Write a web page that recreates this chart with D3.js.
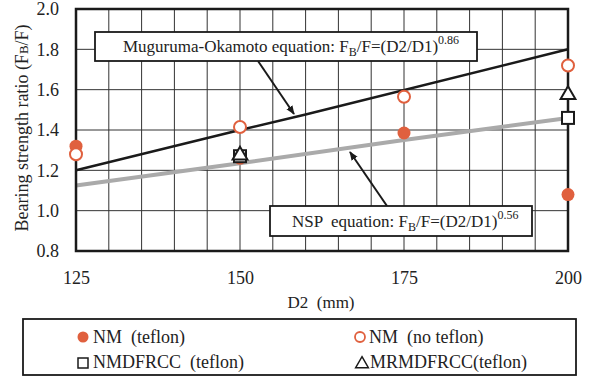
<!DOCTYPE html>
<html>
<head>
<meta charset="utf-8">
<script src="https://cdn.jsdelivr.net/npm/d3@7"></script>
<style>
  body { margin: 0; background: #fff; }
</style>
</head>
<body>
<svg id="chart" width="593" height="376" font-family="Liberation Serif"></svg>
<script>
// data
const xTicks = [125, 150, 175, 200];
const yTicks = [0.8, 1.0, 1.2, 1.4, 1.6, 1.8, 2.0];
const okamotoLine = [[125, 1.2], [150, 1.40], [160, 1.477], [200, 1.80]];
const nspLine = [[125, 1.125], [150, 1.235], [175, 1.35], [200, 1.46]];
const nmTeflon = [[125, 1.32], [150, 1.26], [175, 1.385], [200, 1.08]];
const nmNoTeflon = [[125, 1.28], [150, 1.415], [175, 1.565], [200, 1.72]];
const nmdfrcc = [[150, 1.27], [200, 1.46]];
const mrmdfrcc = [[150, 1.275], [200, 1.575]];
const legendLabels = ['NM  (teflon)', 'NMDFRCC  (teflon)', 'NM  (no teflon)', 'MRMDFRCC(teflon)'];

const orange = '#e0603e';
const svg = d3.select('#chart');
const x = d3.scaleLinear().domain([125, 200]).range([76, 568]);
const y = d3.scaleLinear().domain([0.8, 2.0]).range([251, 9]);

function txt(sel, size) {
  return sel.attr('font-family', 'Liberation Serif').attr('font-size', size).attr('fill', '#222');
}

// grid
const grid = svg.append('g');
grid.selectAll('.vg')
  .data(d3.range(125, 201, 5))
  .enter().append('line')
  .attr('x1', (d) => x(d)).attr('x2', (d) => x(d))
  .attr('y1', y(0.8)).attr('y2', y(2.0))
  .style('stroke', '#333').style('stroke-width', 1);
grid.selectAll('.hg')
  .data(yTicks)
  .enter().append('line')
  .attr('x1', x(125)).attr('x2', x(200))
  .attr('y1', (d) => y(d)).attr('y2', (d) => y(d))
  .style('stroke', '#333').style('stroke-width', 1);

// axes
const yAxis = svg.append('g')
  .attr('transform', `translate(${x(125)}, 0)`)
  .call(d3.axisLeft(y).tickValues(yTicks).tickFormat(d3.format('.1f')).tickSize(0).tickPadding(17));
const xAxis = svg.append('g')
  .attr('transform', `translate(0, ${y(0.8)})`)
  .call(d3.axisBottom(x).tickValues(xTicks).tickSize(0).tickPadding(20));
[xAxis, yAxis].forEach((a) => {
  a.select('.domain').remove();
  a.attr('font-family', 'Liberation Serif').attr('font-size', 18);
  txt(a.selectAll('text'), 18);
});

txt(svg.append('text'), 17)
  .attr('x', 321).attr('y', 308)
  .attr('text-anchor', 'middle')
  .attr('xml:space', 'preserve')
  .text('D2  (mm)');

const yl = txt(svg.append('text'), 18)
  .attr('transform', 'translate(28, 128) rotate(-90)')
  .attr('text-anchor', 'middle');
yl.append('tspan').text('Bearing strength ratio (F');
yl.append('tspan').text('B').attr('font-size', 13);
yl.append('tspan').text('/F)');

// lines
const line = d3.line().x((d) => x(d[0])).y((d) => y(d[1]));
svg.append('path').attr('d', line(nspLine))
  .style('fill', 'none').style('stroke', '#aaa').style('stroke-width', 4);
svg.append('path').attr('d', line(okamotoLine))
  .style('fill', 'none').style('stroke', '#1a1a1a').style('stroke-width', 2.5);

// plot border
svg.append('rect')
  .attr('x', x(125)).attr('y', y(2.0))
  .attr('width', x(200) - x(125)).attr('height', y(0.8) - y(2.0))
  .style('fill', 'none').style('stroke', '#1a1a1a').style('stroke-width', 2.5);

// arrows
svg.append('defs').append('marker')
  .attr('id', 'arr').attr('viewBox', '0 0 10 10')
  .attr('refX', 9).attr('refY', 5)
  .attr('markerWidth', 9).attr('markerHeight', 9)
  .attr('orient', 'auto-start-reverse').attr('markerUnits', 'userSpaceOnUse')
  .append('path').attr('d', 'M0,1 L10,5 L0,9 Z').style('fill', '#1a1a1a');
svg.append('line')
  .attr('x1', 258).attr('y1', 61).attr('x2', 294).attr('y2', 114)
  .style('stroke', '#1a1a1a').style('stroke-width', 2).attr('marker-end', 'url(#arr)');
svg.append('line')
  .attr('x1', 387).attr('y1', 206).attr('x2', 350).attr('y2', 152)
  .style('stroke', '#1a1a1a').style('stroke-width', 2).attr('marker-end', 'url(#arr)');

// annotation boxes
function eqBox(bx, by, bw, bh, tx, ty, label, expo) {
  svg.append('rect')
    .attr('x', bx).attr('y', by).attr('width', bw).attr('height', bh)
    .style('fill', '#fff').style('stroke', '#1a1a1a').style('stroke-width', 1.8);
  const t = txt(svg.append('text'), 17).attr('x', tx).attr('y', ty).attr('xml:space', 'preserve');
  t.append('tspan').text(label + 'F');
  t.append('tspan').text('B').attr('font-size', 12).attr('dy', 4);
  t.append('tspan').text('/F=(D2/D1)').attr('dy', -4);
  t.append('tspan').text(expo).attr('font-size', 12).attr('dy', -8);
}
eqBox(95, 32, 382, 29, 123, 52, 'Muguruma-Okamoto equation: ', '0.86');
eqBox(270, 206, 262, 30, 292, 227, 'NSP  equation: ', '0.56');

// markers
const pts = svg.append('g');
pts.selectAll('.nmt').data(nmTeflon).enter().append('circle')
  .attr('cx', (d) => x(d[0])).attr('cy', (d) => y(d[1])).attr('r', 6.5)
  .style('fill', orange);
pts.selectAll('.sq').data(nmdfrcc).enter().append('rect')
  .attr('x', (d) => x(d[0]) - 6).attr('y', (d) => y(d[1]) - 6)
  .attr('width', 12).attr('height', 12)
  .style('fill', '#fff').style('stroke', '#1a1a1a').style('stroke-width', 2);
const tri = d3.symbol().type(d3.symbolTriangle).size(95);
pts.selectAll('.tri').data(mrmdfrcc).enter().append('path')
  .attr('d', tri)
  .attr('transform', (d) => `translate(${x(d[0])}, ${y(d[1])})`)
  .style('fill', '#fff').style('stroke', '#1a1a1a').style('stroke-width', 2);
pts.selectAll('.nmn').data(nmNoTeflon).enter().append('circle')
  .attr('cx', (d) => x(d[0])).attr('cy', (d) => y(d[1])).attr('r', 6)
  .style('fill', '#fff').style('stroke', orange).style('stroke-width', 2);

// legend
const lg = svg.append('g');
lg.append('rect').attr('x', 23).attr('y', 319).attr('width', 553).attr('height', 56)
  .style('fill', '#fff').style('stroke', '#1a1a1a').style('stroke-width', 1.8);
lg.append('circle').attr('cx', 83).attr('cy', 337).attr('r', 5.5).style('fill', orange);
lg.append('rect').attr('x', 78).attr('y', 358).attr('width', 10).attr('height', 10)
  .style('fill', '#fff').style('stroke', '#1a1a1a').style('stroke-width', 1.5);
lg.append('circle').attr('cx', 360).attr('cy', 337).attr('r', 5)
  .style('fill', '#fff').style('stroke', orange).style('stroke-width', 1.8);
lg.append('path').attr('d', d3.symbol().type(d3.symbolTriangle).size(70))
  .attr('transform', 'translate(362, 364)')
  .style('fill', '#fff').style('stroke', '#1a1a1a').style('stroke-width', 1.5);
const legendPos = [[93, 343], [93, 368], [369, 343], [370, 368]];
txt(lg.selectAll('.lt').data(legendLabels).enter().append('text'), 18)
  .attr('x', (d, i) => legendPos[i][0]).attr('y', (d, i) => legendPos[i][1])
  .attr('xml:space', 'preserve')
  .text((d) => d);
</script>
</body>
</html>
